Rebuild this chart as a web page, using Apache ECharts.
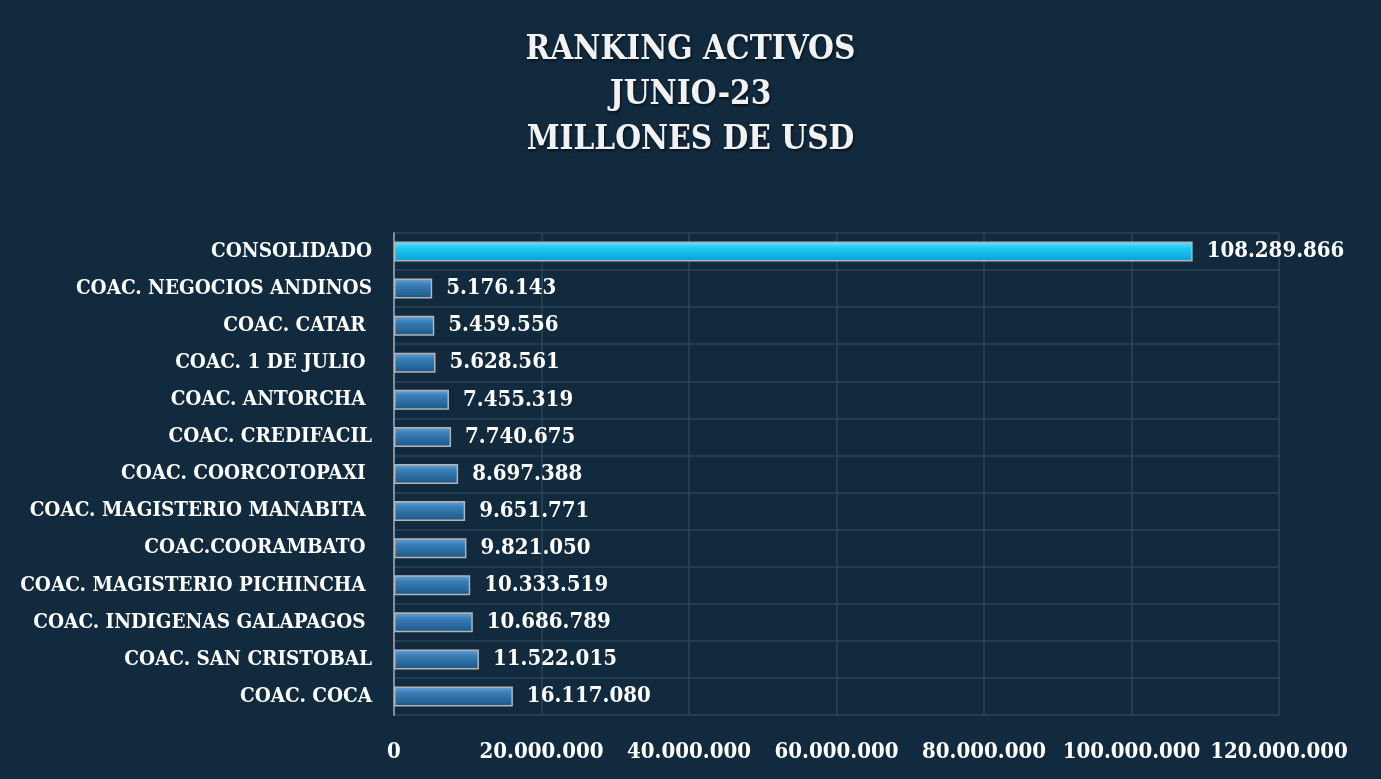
<!DOCTYPE html>
<html><head><meta charset="utf-8">
<script src="https://cdn.jsdelivr.net/npm/echarts@6/dist/echarts.min.js"></script>
<style>html,body{margin:0;padding:0;background:#112a3e;}#c{width:1381px;height:779px;}</style>
</head><body><div id="c"></div>
<script>
const titleLines = ['RANKING ACTIVOS', 'JUNIO-23', 'MILLONES DE USD'];
const categories = ['COAC. COCA', 'COAC. SAN CRISTOBAL', 'COAC. INDIGENAS GALAPAGOS ', 'COAC. MAGISTERIO PICHINCHA ', 'COAC.COORAMBATO ', 'COAC. MAGISTERIO MANABITA ', 'COAC. COORCOTOPAXI ', 'COAC. CREDIFACIL', 'COAC. ANTORCHA ', 'COAC. 1 DE JULIO ', 'COAC. CATAR ', 'COAC. NEGOCIOS ANDINOS', 'CONSOLIDADO'];
const values = [16117080, 11522015, 10686789, 10333519, 9821050, 9651771, 8697388, 7740675, 7455319, 5628561, 5459556, 5176143, 108289866];
const highlight = 'CONSOLIDADO';
const xMin = 0, xMax = 120000000, xStep = 20000000;

function fmt(v){ return String(Math.round(v)).replace(/\B(?=(\d{3})+(?!\d))/g, '.'); }
const FONT = '"DejaVu Serif Condensed", "DejaVu Serif", serif';
const blueGrad = new echarts.graphic.LinearGradient(0,0,0,1,[{offset:0,color:'#6aa6d8'},{offset:0.3,color:'#3a7fb8'},{offset:1,color:'#1b5686'}]);
const cyanGrad = new echarts.graphic.LinearGradient(0,0,0,1,[{offset:0,color:'#6ae4ff'},{offset:0.35,color:'#1cc8f2'},{offset:1,color:'#0aa0d6'}]);

const chart = echarts.init(document.getElementById('c'));
chart.setOption({
  backgroundColor: '#112a3e',
  title: {
    text: titleLines.join('\n'), left: 'center', top: 23,
    textStyle: {color:'#f2f2f2', fontFamily: FONT, fontWeight:'bold', fontSize: 33, lineHeight: 45,
      textShadowColor:'rgba(0,0,0,0.6)', textShadowBlur:3, textShadowOffsetX:1, textShadowOffsetY:2}
  },
  grid: {left: 394, right: 102, top: 233, bottom: 64, containLabel: false},
  xAxis: {
    type: 'value', min: xMin, max: xMax, interval: xStep,
    axisLine: {show: false}, axisTick: {show: false},
    splitLine: {show: true, lineStyle: {color: '#2b4459', width: 1.5}},
    axisLabel: {color:'#ffffff', fontFamily: FONT, fontWeight:'bold', fontSize: 22, margin: 26, formatter: fmt}
  },
  yAxis: {
    type: 'category', data: categories,
    axisLine: {show: true, lineStyle: {color:'#7f8f9e', width: 2}},
    axisTick: {show: false},
    splitLine: {show: true, lineStyle: {color: '#2b4459', width: 1.5}},
    axisLabel: {color:'#ffffff', fontFamily: FONT, fontWeight:'bold', fontSize: 20.5, margin: 22}
  },
  series: [{
    type: 'bar', barWidth: 20,
    data: values.map((v,i)=>({value: v, itemStyle: {color: categories[i]===highlight ? cyanGrad : blueGrad}})),
    itemStyle: {borderColor: '#b3b3b3', borderWidth: 1.5},
    label: {show: true, position: 'right', distance: 14, color:'#ffffff', fontFamily: FONT, fontWeight:'bold', fontSize: 22, formatter: p => fmt(p.value)}
  }]
});
</script></body></html>
